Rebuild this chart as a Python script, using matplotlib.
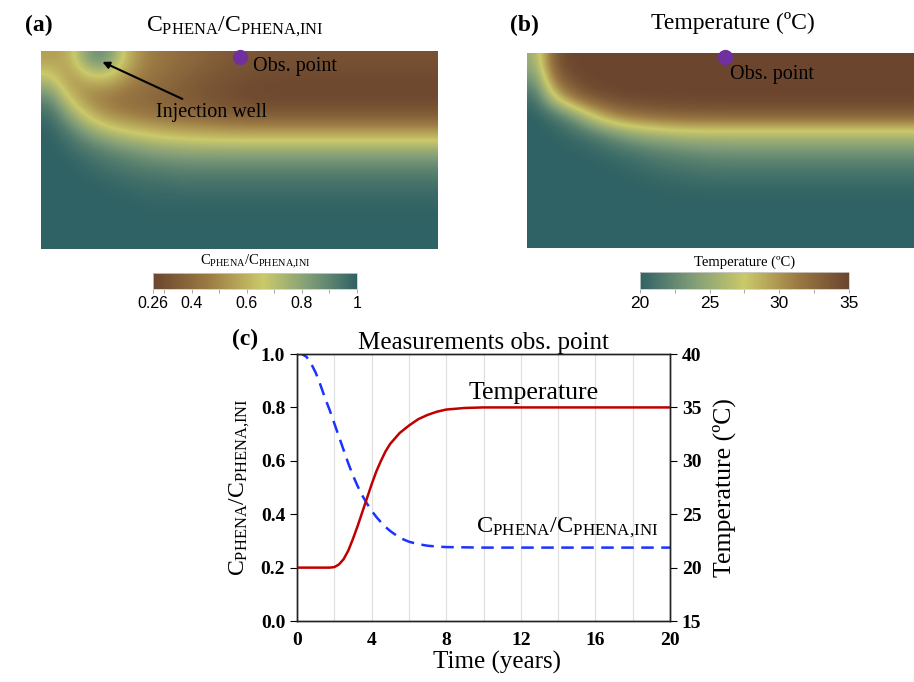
# Import libraries
import numpy as np
import matplotlib
import matplotlib.pyplot as plt
from matplotlib.colors import LinearSegmentedColormap

plt.rcParams['font.family'] = ['Liberation Serif', 'DejaVu Serif']
plt.rcParams['mathtext.fontset'] = 'custom'
plt.rcParams['mathtext.rm'] = 'Liberation Serif'
plt.rcParams['mathtext.it'] = 'Liberation Serif:italic'

# Measurements at the observation point
time_years = [0, 0.25, 0.5, 0.75, 1, 1.25, 1.5, 1.75, 2, 2.25, 2.5, 2.75, 3,
              3.25, 3.5, 3.75, 4, 4.25, 4.5, 4.75, 5, 5.5, 6, 6.5, 7, 7.5, 8,
              9, 10, 12, 14, 16, 18, 20]
temperature = [20, 20, 20, 20, 20, 20, 20, 20, 20.05, 20.3, 20.8, 21.6, 22.7,
               23.9, 25.2, 26.5, 27.8, 29.0, 30.0, 30.9, 31.6, 32.6, 33.3,
               33.9, 34.3, 34.6, 34.8, 34.95, 35, 35, 35, 35, 35, 35]
conc_ratio = [1.0, 1.0, 0.99, 0.965, 0.93, 0.885, 0.835, 0.79, 0.74, 0.69,
              0.64, 0.59, 0.545, 0.505, 0.47, 0.44, 0.413, 0.39, 0.37, 0.352,
              0.337, 0.312, 0.297, 0.288, 0.282, 0.279, 0.277, 0.276, 0.275,
              0.275, 0.275, 0.275, 0.275, 0.275]

# Concentration field (a), coarse grid (rows = depth)
conc_field = [
    [0.55, 0.58, 0.86, 0.88, 0.62, 0.48, 0.44, 0.41, 0.38, 0.35, 0.33, 0.32, 0.31, 0.31, 0.31, 0.31, 0.31, 0.31, 0.31, 0.31, 0.31],
    [0.70, 0.50, 0.62, 0.64, 0.52, 0.45, 0.41, 0.37, 0.34, 0.32, 0.30, 0.29, 0.28, 0.28, 0.28, 0.28, 0.28, 0.28, 0.28, 0.28, 0.28],
    [0.88, 0.62, 0.47, 0.45, 0.42, 0.40, 0.37, 0.35, 0.32, 0.30, 0.28, 0.27, 0.27, 0.27, 0.27, 0.27, 0.27, 0.27, 0.27, 0.27, 0.27],
    [0.97, 0.80, 0.62, 0.50, 0.46, 0.43, 0.41, 0.39, 0.37, 0.35, 0.34, 0.33, 0.33, 0.33, 0.33, 0.33, 0.33, 0.33, 0.33, 0.33, 0.33],
    [1.00, 0.93, 0.82, 0.73, 0.67, 0.63, 0.60, 0.58, 0.57, 0.56, 0.55, 0.55, 0.55, 0.55, 0.55, 0.55, 0.55, 0.55, 0.55, 0.55, 0.55],
    [1.00, 0.98, 0.94, 0.90, 0.86, 0.83, 0.80, 0.79, 0.78, 0.78, 0.78, 0.78, 0.78, 0.78, 0.78, 0.78, 0.78, 0.78, 0.78, 0.78, 0.78],
    [1.00, 1.00, 0.98, 0.96, 0.94, 0.92, 0.91, 0.90, 0.90, 0.90, 0.90, 0.90, 0.90, 0.90, 0.90, 0.90, 0.90, 0.90, 0.90, 0.90, 0.90],
    [1.00, 1.00, 1.00, 0.99, 0.98, 0.97, 0.97, 0.96, 0.96, 0.96, 0.96, 0.96, 0.96, 0.96, 0.96, 0.96, 0.96, 0.96, 0.96, 0.96, 0.96],
    [1.00, 1.00, 1.00, 1.00, 1.00, 0.99, 0.99, 0.99, 0.99, 0.99, 0.99, 0.99, 0.99, 0.99, 0.99, 0.99, 0.99, 0.99, 0.99, 0.99, 0.99],
    [1.00] * 21,
    [1.00] * 21,
]

# Temperature field (b), coarse grid
temp_field = [
    [25.0, 34.0, 35.0, 35.0, 35.0, 35.0, 35.0, 35.0, 35.0, 35.0, 35.0, 35.0, 35.0, 35.0, 35.0, 35.0, 35.0, 35.0, 35.0, 35.0, 35.0],
    [23.0, 32.0, 34.5, 35.0, 35.0, 35.0, 35.0, 35.0, 35.0, 35.0, 35.0, 35.0, 35.0, 35.0, 35.0, 35.0, 35.0, 35.0, 35.0, 35.0, 35.0],
    [20.8, 27.5, 32.0, 34.0, 34.7, 35.0, 35.0, 35.0, 35.0, 35.0, 35.0, 35.0, 35.0, 35.0, 35.0, 35.0, 35.0, 35.0, 35.0, 35.0, 35.0],
    [20.0, 21.0, 23.5, 27.5, 30.5, 32.0, 32.5, 33.0, 33.2, 33.3, 33.4, 33.4, 33.4, 33.4, 33.4, 33.4, 33.4, 33.4, 33.4, 33.4, 33.4],
    [20.0, 20.2, 20.6, 21.5, 23.0, 24.5, 25.5, 26.0, 26.5, 26.5, 26.5, 26.5, 26.5, 26.5, 26.5, 26.5, 26.5, 26.5, 26.5, 26.5, 26.5],
    [20.0, 20.0, 20.1, 20.3, 20.7, 21.2, 21.8, 22.3, 22.7, 23.0, 23.2, 23.3, 23.3, 23.3, 23.3, 23.3, 23.3, 23.3, 23.3, 23.3, 23.3],
    [20.0, 20.0, 20.0, 20.0, 20.1, 20.3, 20.6, 20.9, 21.1, 21.3, 21.4, 21.4, 21.4, 21.4, 21.4, 21.4, 21.4, 21.4, 21.4, 21.4, 21.4],
    [20.0, 20.0, 20.0, 20.0, 20.0, 20.0, 20.1, 20.2, 20.3, 20.4, 20.4, 20.4, 20.4, 20.4, 20.4, 20.4, 20.4, 20.4, 20.4, 20.4, 20.4],
    [20.0] * 21,
    [20.0] * 21,
    [20.0] * 21,
]

# colour stops (teal -> yellow -> brown)
stop_colors = ['#2f6264', '#7f9c78', '#cbc96a', '#9c7a44', '#6b452e']
temp_stops = [0.0, 0.25, 0.5, 0.75, 1.0]
conc_stops = [0.0, 0.27, 0.54, 0.77, 1.0]

cmap_temp = LinearSegmentedColormap.from_list('temp', list(zip(temp_stops, stop_colors)))
cmap_conc = LinearSegmentedColormap.from_list('conc', list(zip(conc_stops, stop_colors[::-1])))

label_c = r'C$_{\mathrm{PHENA}}$/C$_{\mathrm{PHENA{,}INI}}$'

fig = plt.figure(figsize=(9.14, 6.82), dpi=100)

# ---- panel (a)
ax_a = fig.add_axes([0.0449, 0.6349, 0.4333, 0.2903])
im_a = ax_a.imshow(np.array(conc_field), cmap=cmap_conc, vmin=0.26, vmax=1.0,
                   extent=[0, 1, 1, 0], aspect='auto', interpolation='bicubic')
ax_a.set_xlim(0, 1)
ax_a.set_ylim(1, 0)
ax_a.axis('off')
ax_a.plot(0.5025, 0.03, 'o', color='#7030a0', markersize=10, clip_on=False)
ax_a.text(0.535, 0.08, 'Obs. point', fontsize=14.5, va='center', ha='left')
ax_a.annotate('Injection well', xy=(0.155, 0.055), xytext=(0.29, 0.31),
              fontsize=14.5, va='center', ha='left',
              arrowprops=dict(arrowstyle='-|>', color='black', lw=1.5,
                              mutation_scale=10, shrinkA=2, shrinkB=0))
fig.text(0.027, 0.962, '(a)', fontsize=17, fontweight='bold', va='center')
fig.text(0.257, 0.960, label_c, fontsize=17, ha='center', va='center')

cax_a = fig.add_axes([0.1674, 0.5762, 0.2232, 0.0235])
cb_a = fig.colorbar(im_a, cax=cax_a, orientation='horizontal')
cb_a.set_ticks([0.26, 0.3, 0.4, 0.5, 0.6, 0.7, 0.8, 0.9, 1.0])
cb_a.set_ticklabels(['0.26', '', '0.4', '', '0.6', '', '0.8', '', '1'])
cax_a.tick_params(length=3, width=0.6, color='#999999', labelsize=11.5, pad=2)
for lab in cax_a.get_xticklabels():
    lab.set_family('Liberation Sans')
cb_a.outline.set_edgecolor('#cccccc')
cb_a.outline.set_linewidth(0.6)
fig.text(0.279, 0.616, label_c, fontsize=10.5, ha='center', va='center')

# ---- panel (b)
ax_b = fig.add_axes([0.5766, 0.6364, 0.4234, 0.2859])
im_b = ax_b.imshow(np.array(temp_field), cmap=cmap_temp, vmin=20, vmax=35,
                   extent=[0, 1, 1, 0], aspect='auto', interpolation='bicubic')
ax_b.set_xlim(0, 1)
ax_b.set_ylim(1, 0)
ax_b.axis('off')
ax_b.plot(0.512, 0.02, 'o', color='#7030a0', markersize=10, clip_on=False)
ax_b.text(0.525, 0.11, 'Obs. point', fontsize=14.5, va='center', ha='left')
fig.text(0.558, 0.962, '(b)', fontsize=17, fontweight='bold', va='center')
fig.text(0.802, 0.966, 'Temperature (ºC)', fontsize=17, ha='center', va='center')

cax_b = fig.add_axes([0.7002, 0.5762, 0.2287, 0.0249])
cb_b = fig.colorbar(im_b, cax=cax_b, orientation='horizontal')
cb_b.set_ticks([20, 22.5, 25, 27.5, 30, 32.5, 35])
cb_b.set_ticklabels(['20', '', '25', '', '30', '', '35'])
cax_b.tick_params(length=3, width=0.6, color='#999999', labelsize=12.5, pad=2)
for lab in cax_b.get_xticklabels():
    lab.set_family('Liberation Sans')
cb_b.outline.set_edgecolor('#cccccc')
cb_b.outline.set_linewidth(0.6)
fig.text(0.815, 0.616, 'Temperature (ºC)', fontsize=10.5, ha='center', va='center')

# ---- panel (c)
ax_c = fig.add_axes([0.325, 0.0894, 0.408, 0.3915])
ax_c.plot(time_years, conc_ratio, color='#1a33ff', linestyle=(0, (5, 3)), linewidth=1.8)
ax_c.set_xlim(0, 20)
ax_c.set_ylim(0, 1)
ax_c.set_xticks([0, 4, 8, 12, 16, 20])
ax_c.set_xticks(np.arange(2, 20, 2), minor=True)
ax_c.set_yticks([0, 0.2, 0.4, 0.6, 0.8, 1.0])
ax_c.yaxis.set_major_formatter(matplotlib.ticker.FormatStrFormatter('%.1f'))
ax_c.grid(True, axis='x', which='both', color='#e0e0e0', linewidth=0.9)
ax_c.set_axisbelow(True)
ax_c.tick_params(axis='x', length=0, which='both', labelsize=14, pad=8)
ax_c.tick_params(axis='y', length=5, direction='out', labelsize=14)
for lab in ax_c.get_xticklabels() + ax_c.get_yticklabels():
    lab.set_fontweight('bold')
ax_c.set_xlabel('Time (years)', fontsize=18, labelpad=1, x=0.535)
ax_c.set_ylabel(label_c, fontsize=17, labelpad=6)
ax_c.set_title('Measurements obs. point', fontsize=18, pad=3)

ax_t = ax_c.twinx()
ax_t.plot(time_years, temperature, color='#c00000', linewidth=1.8)
ax_t.set_ylim(15, 40)
ax_t.set_yticks([15, 20, 25, 30, 35, 40])
ax_t.tick_params(axis='y', length=5, direction='out', labelsize=14)
for lab in ax_t.get_yticklabels():
    lab.set_fontweight('bold')
ax_t.set_ylabel('Temperature (ºC)', fontsize=18.5, labelpad=8)
for ax in (ax_c, ax_t):
    for sp in ax.spines.values():
        sp.set_linewidth(1.0)
        sp.set_color('#222222')

ax_c.text(12.7, 0.855, 'Temperature', fontsize=18.5, ha='center', va='center')
ax_c.text(14.5, 0.35, label_c, fontsize=17.5, ha='center', va='center')
fig.text(0.254, 0.502, '(c)', fontsize=17, fontweight='bold', va='center')

fig.savefig('out.png', dpi=100)
